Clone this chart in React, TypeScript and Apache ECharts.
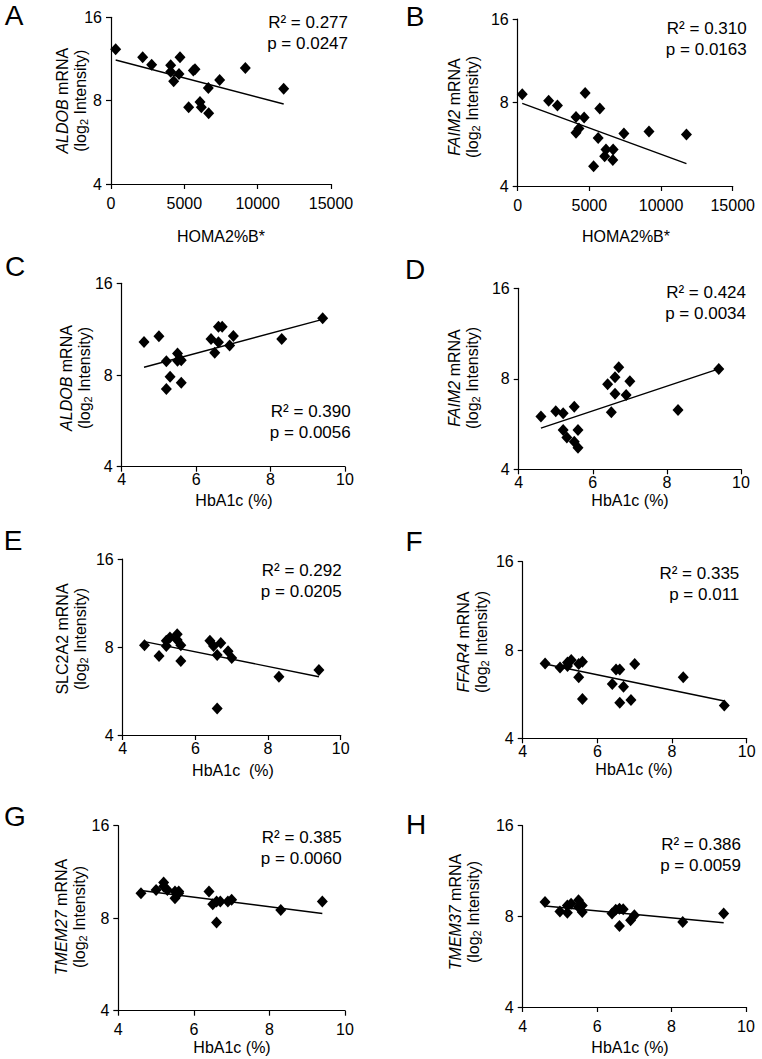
import React, { useEffect, useRef } from "react";
import * as echarts from "echarts";

// ---------- DATA ----------
const homaX = [318, 2159, 2773, 4068, 4068, 4273, 4636, 4705, 5295, 5614, 5727, 6068, 6159, 6636, 6659, 7409, 9159, 11773];
const aldobHoma = [12.26, 11.47, 10.79, 10.73, 10.18, 9.4, 9.99, 11.47, 7.57, 10.27, 10.38, 7.91, 7.57, 8.89, 7.2, 9.5, 10.5, 8.84];
const faim2Homa = [8.57, 8.11, 7.8, 7.1, 6.22, 6.45, 7.06, 8.66, 4.71, 5.96, 7.61, 5.12, 5.42, 4.96, 5.42, 6.19, 6.29, 6.13];

const hba1cX = [4.6, 5.0, 5.2, 5.2, 5.3, 5.5, 5.5, 5.6, 5.6, 6.4, 6.5, 6.6, 6.6, 6.7, 6.9, 7.0, 8.3, 9.4];
const aldobHba1c = [10.27, 10.72, 8.87, 7.19, 7.9, 9.42, 8.91, 7.55, 8.95, 10.5, 9.47, 10.24, 11.53, 11.53, 9.99, 10.74, 10.5, 12.28];
const faim2Hba1c = [5.99, 6.24, 6.14, 5.41, 5.1, 6.46, 4.94, 5.41, 4.72, 7.67, 6.19, 8.09, 7.14, 8.74, 7.07, 7.85, 6.3, 8.63];
const slc2a2Hba1c = [8.11, 7.45, 8.06, 8.41, 8.63, 8.84, 8.45, 8.11, 7.17, 8.41, 8.06, 7.51, 4.93, 8.25, 7.73, 7.34, 6.33, 6.67];
const ffar4Hba1c = [7.2, 6.98, 7.06, 7.25, 7.4, 7.17, 6.46, 7.3, 5.45, 6.13, 6.87, 6.87, 5.29, 6.0, 5.4, 7.17, 6.46, 5.17];
const tmem27Hba1c = [9.65, 9.89, 10.45, 10.14, 9.89, 9.77, 9.29, 9.77, 9.65, 9.77, 8.88, 9.06, 7.74, 9.06, 9.06, 9.18, 8.51, 9.06];
const tmem37Hba1c = [8.92, 8.31, 8.23, 8.7, 8.81, 9.04, 8.59, 8.27, 8.7, 8.17, 8.42, 8.48, 7.43, 8.44, 7.76, 8.06, 7.66, 8.17];

// trend-line end points [x, y]
const trendA = [[318, 11.22], [11773, 7.78]];
const trendB = [[318, 7.94], [11773, 4.82]];
const trendC = [[4.6, 8.48], [9.4, 12.18]];
const trendD = [[4.6, 5.48], [9.4, 8.63]];
const trendE = [[4.6, 8.35], [9.4, 6.33]];
const trendF = [[4.6, 7.17], [9.4, 5.36]];
const trendG = [[4.6, 9.85], [9.4, 8.29]];
const trendH = [[4.6, 8.66], [9.4, 7.62]];

const statsA = ["R² = 0.277", "p = 0.0247"];
const statsB = ["R² = 0.310", "p = 0.0163"];
const statsC = ["R² = 0.390", "p = 0.0056"];
const statsD = ["R² = 0.424", "p = 0.0034"];
const statsE = ["R² = 0.292", "p = 0.0205"];
const statsF = ["R² = 0.335", "p = 0.011"];
const statsG = ["R² = 0.385", "p = 0.0060"];
const statsH = ["R² = 0.386", "p = 0.0059"];

const yTicks = { min: 4, max: 16, logBase: 2 };
const homaTicks = { min: 0, max: 15000, interval: 5000 };
const hbTicks = { min: 4, max: 10, interval: 2 };

// ---------- LAYOUT ----------
const FONT = "'Liberation Sans', Arial, Helvetica, sans-serif";

const panels = [
  { letter: "A", lp: [14, 15], grid: [111, 17.3, 220, 166.7], xt: homaTicks, xs: homaX, ys: aldobHoma, trend: trendA, stats: statsA, sp: [348, 33], gene: "ALDOB", it: true, yl: [71.5, 100.7], xName: "HOMA2%B*", xn: [221, 236], lm: 11 },
  { letter: "B", lp: [415, 16], grid: [517.7, 19, 215, 167], xt: homaTicks, xs: homaX, ys: faim2Homa, trend: trendB, stats: statsB, sp: [746.7, 39.3], gene: "FAIM2", it: true, yl: [463.5, 107], xName: "HOMA2%B*", xn: [626, 236], lm: 11 },
  { letter: "C", lp: [15, 266], grid: [121.7, 283.3, 223.3, 183.4], xt: hbTicks, xs: hba1cX, ys: aldobHba1c, trend: trendC, stats: statsC, sp: [350.7, 422.2], gene: "ALDOB", it: true, yl: [75, 378], xName: "HbA1c (%)", xn: [234, 500], lm: 5 },
  { letter: "D", lp: [415, 269], grid: [518.7, 288.3, 222.3, 181], xt: hbTicks, xs: hba1cX, ys: faim2Hba1c, trend: trendD, stats: statsD, sp: [746, 302.5], gene: "FAIM2", it: true, yl: [463.5, 378], xName: "HbA1c (%)", xn: [630, 500], lm: 5 },
  { letter: "E", lp: [13, 540], grid: [122.7, 559, 218, 176], xt: hbTicks, xs: hba1cX, ys: slc2a2Hba1c, trend: trendE, stats: statsE, sp: [341.7, 580.8], gene: "SLC2A2", it: false, yl: [71, 639], xName: "HbA1c  (%)", xn: [233, 770], lm: 5 },
  { letter: "F", lp: [414, 541], grid: [522.7, 561.7, 224, 176.6], xt: hbTicks, xs: hba1cX, ys: ffar4Hba1c, trend: trendF, stats: statsF, sp: [739.3, 583.6], gene: "FFAR4", it: true, yl: [472.7, 642], xName: "HbA1c (%)", xn: [634, 769], lm: 5 },
  { letter: "G", lp: [15, 816], grid: [118.3, 825.7, 226.7, 185], xt: hbTicks, xs: hba1cX, ys: tmem27Hba1c, trend: trendG, stats: statsG, sp: [341.7, 847.5], gene: "TMEM27", it: true, yl: [70, 917], xName: "HbA1c (%)", xn: [232, 1047], lm: 11 },
  { letter: "H", lp: [416, 824], grid: [522.7, 825.7, 223.3, 181.3], xt: hbTicks, xs: hba1cX, ys: tmem37Hba1c, trend: trendH, stats: statsH, sp: [741, 855], gene: "TMEM37", it: true, yl: [464.3, 912], xName: "HbA1c (%)", xn: [630, 1047], lm: 11 },
];

function buildOption() {
  const grid: any[] = [];
  const xAxis: any[] = [];
  const yAxis: any[] = [];
  const series: any[] = [];
  const graphic: any[] = [];
  const axisLine = { show: true, lineStyle: { color: "#000", width: 1.2 } };
  const axisTick = { show: true, inside: false, length: 5, lineStyle: { color: "#000", width: 1.2 } };

  panels.forEach((p, i) => {
    grid.push({ left: p.grid[0], top: p.grid[1], width: p.grid[2], height: p.grid[3], containLabel: false });
    xAxis.push({
      type: "value", gridIndex: i, min: p.xt.min, max: p.xt.max, interval: p.xt.interval,
      axisLine, axisTick, splitLine: { show: false },
      axisLabel: { color: "#000", fontSize: 16, fontFamily: FONT, margin: p.lm, formatter: (v: number) => String(v) },
    });
    yAxis.push({
      type: "log", gridIndex: i, min: yTicks.min, max: yTicks.max, logBase: yTicks.logBase,
      axisLine, axisTick, splitLine: { show: false }, minorTick: { show: false },
      axisLabel: { color: "#000", fontSize: 16, fontFamily: FONT, margin: 9, formatter: (v: number) => String(Math.round(v)) },
    });
    series.push({
      type: "scatter", xAxisIndex: i, yAxisIndex: i, symbol: "diamond", symbolSize: [11, 12],
      itemStyle: { color: "#000", opacity: 1 }, data: p.xs.map((x, k) => [x, p.ys[k]]), z: 3,
    });
    series.push({
      type: "line", xAxisIndex: i, yAxisIndex: i, symbol: "none", silent: true,
      lineStyle: { color: "#000", width: 1.4 }, data: p.trend, z: 2,
    });
    graphic.push({
      type: "text", x: p.lp[0], y: p.lp[1],
      style: { text: p.letter, font: `28px ${FONT}`, fill: "#000", align: "center", verticalAlign: "middle" },
    });
    graphic.push({
      type: "text", x: p.sp[0], y: p.sp[1],
      style: { text: p.stats.join("\n"), fontSize: 17, fontFamily: FONT, lineHeight: 21, fill: "#000", align: "right", verticalAlign: "middle" },
    });
    graphic.push({
      type: "text", x: p.xn[0], y: p.xn[1],
      style: { text: p.xName, fontSize: 16, fontFamily: FONT, fill: "#000", align: "center", verticalAlign: "middle" },
    });
    graphic.push({
      type: "text", x: p.yl[0], y: p.yl[1], rotation: Math.PI / 2,
      style: {
        text: `{g|${p.gene}}{n| mRNA}\n{n|(log}{s|2}{n| Intensity)}`,
        align: "center", verticalAlign: "middle", fill: "#000",
        rich: {
          g: { fontSize: 16, fontFamily: FONT, fontStyle: p.it ? "italic" : "normal", lineHeight: 18, fill: "#000" },
          n: { fontSize: 16, fontFamily: FONT, lineHeight: 18, fill: "#000" },
          s: { fontSize: 11, fontFamily: FONT, lineHeight: 18, verticalAlign: "bottom", fill: "#000" },
        },
      },
    });
  });

  return { animation: false, backgroundColor: "#fff", grid, xAxis, yAxis, series, graphic };
}

export default function App() {
  const ref = useRef<HTMLDivElement>(null);
  useEffect(() => {
    if (!ref.current) return;
    const chart = echarts.init(ref.current, undefined, { renderer: "svg" });
    chart.setOption(buildOption() as any);
    return () => chart.dispose();
  }, []);
  return <div ref={ref} style={{ position: "absolute", left: 0, top: 0, width: 762, height: 1059, background: "#fff" }} />;
}
